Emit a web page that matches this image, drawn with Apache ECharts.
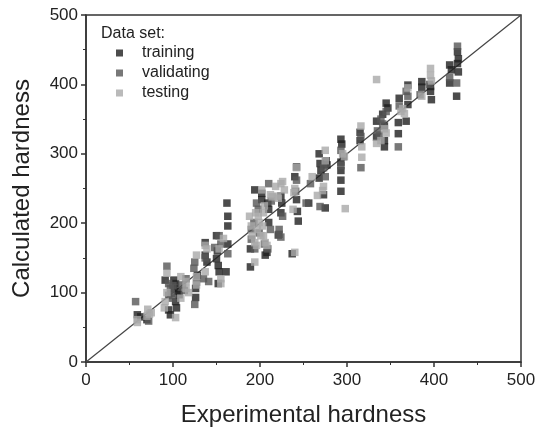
<!DOCTYPE html>
<html><head><meta charset="utf-8">
<script src="https://cdn.jsdelivr.net/npm/echarts@6/dist/echarts.min.js"></script>
<style>html,body{margin:0;padding:0;background:#fff;overflow:hidden}#c{width:541px;height:432px}</style>
</head><body><div id="c"></div>
<script>
const xTicks = [0, 100, 200, 300, 400, 500];
const yTicks = [0, 100, 200, 300, 400, 500];
const training = [
[59,68],[63,65],[70,61],
[91,118],[101,118],[103,113],[101,106],[103,87],[104,78],[97,68],[95,75],[105,102],
[107,97],
[126,106],[126,93],[128,125],
[137,172],[137,154],[139,144],
[150,182],[150,149],[152,139],[153,130],[152,113],[151,160],
[161,130],[162,229],[163,210],[163,196],[163,170],
[189,137],[189,163],[194,248],
[202,243],[202,234],
[206,154],[208,158],[210,201],[210,220],[209,229],
[221,183],[224,239],[225,229],[224,215],
[237,156],[240,267],[242,281],[242,234],[243,217],[244,203],
[256,229],
[268,300],[269,286],[270,276],[268,265],[273,241],[275,222],[276,290],[277,284],
[293,321],[294,314],[293,288],[293,276],[293,262],[293,246],[296,296],
[315,331],[315,319],
[334,347],[334,324],[341,357],[343,340],[343,319],[343,310],[345,373],[347,366],
[360,380],[359,345],[359,329],[368,347],[370,371],[370,399],
[386,404],[396,390],[397,378],[396,397],[386,396],
[418,428],[420,421],[418,402],[426,383],[427,447],[428,437],[427,430],[428,418]
];
const validating = [
[57,87],[72,59],
[93,138],[95,113],[97,106],[98,99],[99,92],[95,96],[100,110],
[111,111],[115,120],[113,103],
[125,144],[124,135],[125,83],[127,115],
[137,150],[141,116],[135,120],
[148,165],[153,182],[155,170],
[163,156],
[190,177],[190,191],[193,201],[196,229],[198,220],[194,163],[199,186],
[210,257],[212,191],[209,163],[205,170],
[222,191],[222,184],[224,180],[226,210],[213,232],
[242,262],[241,246],
[253,229],[258,257],
[269,224],[275,267],[273,280],
[293,305],[293,283],
[316,280],[316,325],
[335,333],[339,350],[341,343],[345,361],[337,327],
[359,310],[360,369],[370,383],[368,390],
[384,385],[395,400],
[427,455],[426,402],[418,410]
];
const testing = [
[59,57],[59,61],[71,76],[73,69],[75,71],[70,66],
[93,128],[91,87],[90,78],[103,64],[93,100],
[109,123],[109,92],[115,106],[115,116],[118,100],
[127,154],[127,123],[127,111],
[137,168],[139,163],[137,130],
[153,163],[155,120],[155,113],[158,178],
[188,210],[190,196],[191,182],[194,172],[197,191],[198,210],[196,168],[201,182],[195,215],[199,201],[203,196],[194,144],[202,248],
[206,172],[208,168],[204,215],[204,182],[212,241],[214,238],[205,225],
[218,253],[220,239],[224,257],[226,260],[228,248],[221,236],
[238,220],[240,250],[240,158],[239,244],[242,280],
[260,267],[266,240],[273,253],[275,290],[275,305],[272,247],
[295,300],[297,296],[298,221],
[316,340],[317,310],[317,295],
[334,407],[334,315],[339,319],[345,330],[343,336],
[362,361],[364,365],[370,395],[366,358],
[386,383],[396,423],[396,413],[397,405]
];
const diagonal = [[0,0],[500,500]];

const chart = echarts.init(document.getElementById('c'), null, {renderer:'canvas'});
const font = 'Liberation Sans, Arial, sans-serif';
const axisCommon = {
  min: 0, max: 500, interval: 100,
  axisLine: {show:true, onZero:false, lineStyle:{color:'#333', width:1.5}},
  axisTick: {show:true, inside:false, length:5, lineStyle:{color:'#333', width:1.5}},
  minorTick: {show:true, splitNumber:2, length:3, lineStyle:{color:'#333', width:1}},
  splitLine: {show:false},
  nameLocation: 'middle',
  nameTextStyle: {fontSize:24, color:'#222', fontFamily:font}
};
chart.setOption({
  animation: false,
  backgroundColor: '#fff',
  grid: {left:86, right:20, top:15, bottom:63, show:true, borderColor:'#333', borderWidth:1.5, backgroundColor:'transparent'},
  xAxis: Object.assign({}, axisCommon, {type:'value', name:'Experimental hardness', nameGap:41,
    axisLabel: {fontSize:17, color:'#222', fontFamily:font, margin:10, customValues: xTicks}}),
  yAxis: Object.assign({}, axisCommon, {type:'value', name:'Calculated hardness', nameGap:52,
    axisLabel: {fontSize:17, color:'#222', fontFamily:font, margin:8, customValues: yTicks}}),
  legend: {
    orient:'vertical', left:111, top:40, itemWidth:7, itemHeight:7, itemGap:4,
    icon:'rect', data:['training','validating','testing'],
    textStyle:{fontSize:16, color:'#222', fontFamily:font, padding:[0,0,0,14]}
  },
  graphic: [{type:'text', left:101, top:26, style:{text:'Data set:', fill:'#222', font:'16px Liberation Sans, Arial, sans-serif'}}],
  series: [
    {type:'line', data:diagonal, symbol:'none', lineStyle:{color:'#444', width:1.2}, silent:true, z:1},
    {name:'training', type:'scatter', data:training, symbol:'rect', symbolSize:7.5, itemStyle:{color:'#1f1f1f'}, z:2},
    {name:'validating', type:'scatter', data:validating, symbol:'rect', symbolSize:7.5, itemStyle:{color:'#565656'}, z:3},
    {name:'testing', type:'scatter', data:testing, symbol:'rect', symbolSize:7.5, itemStyle:{color:'#a9a9a9'}, z:4}
  ]
});
</script></body></html>
